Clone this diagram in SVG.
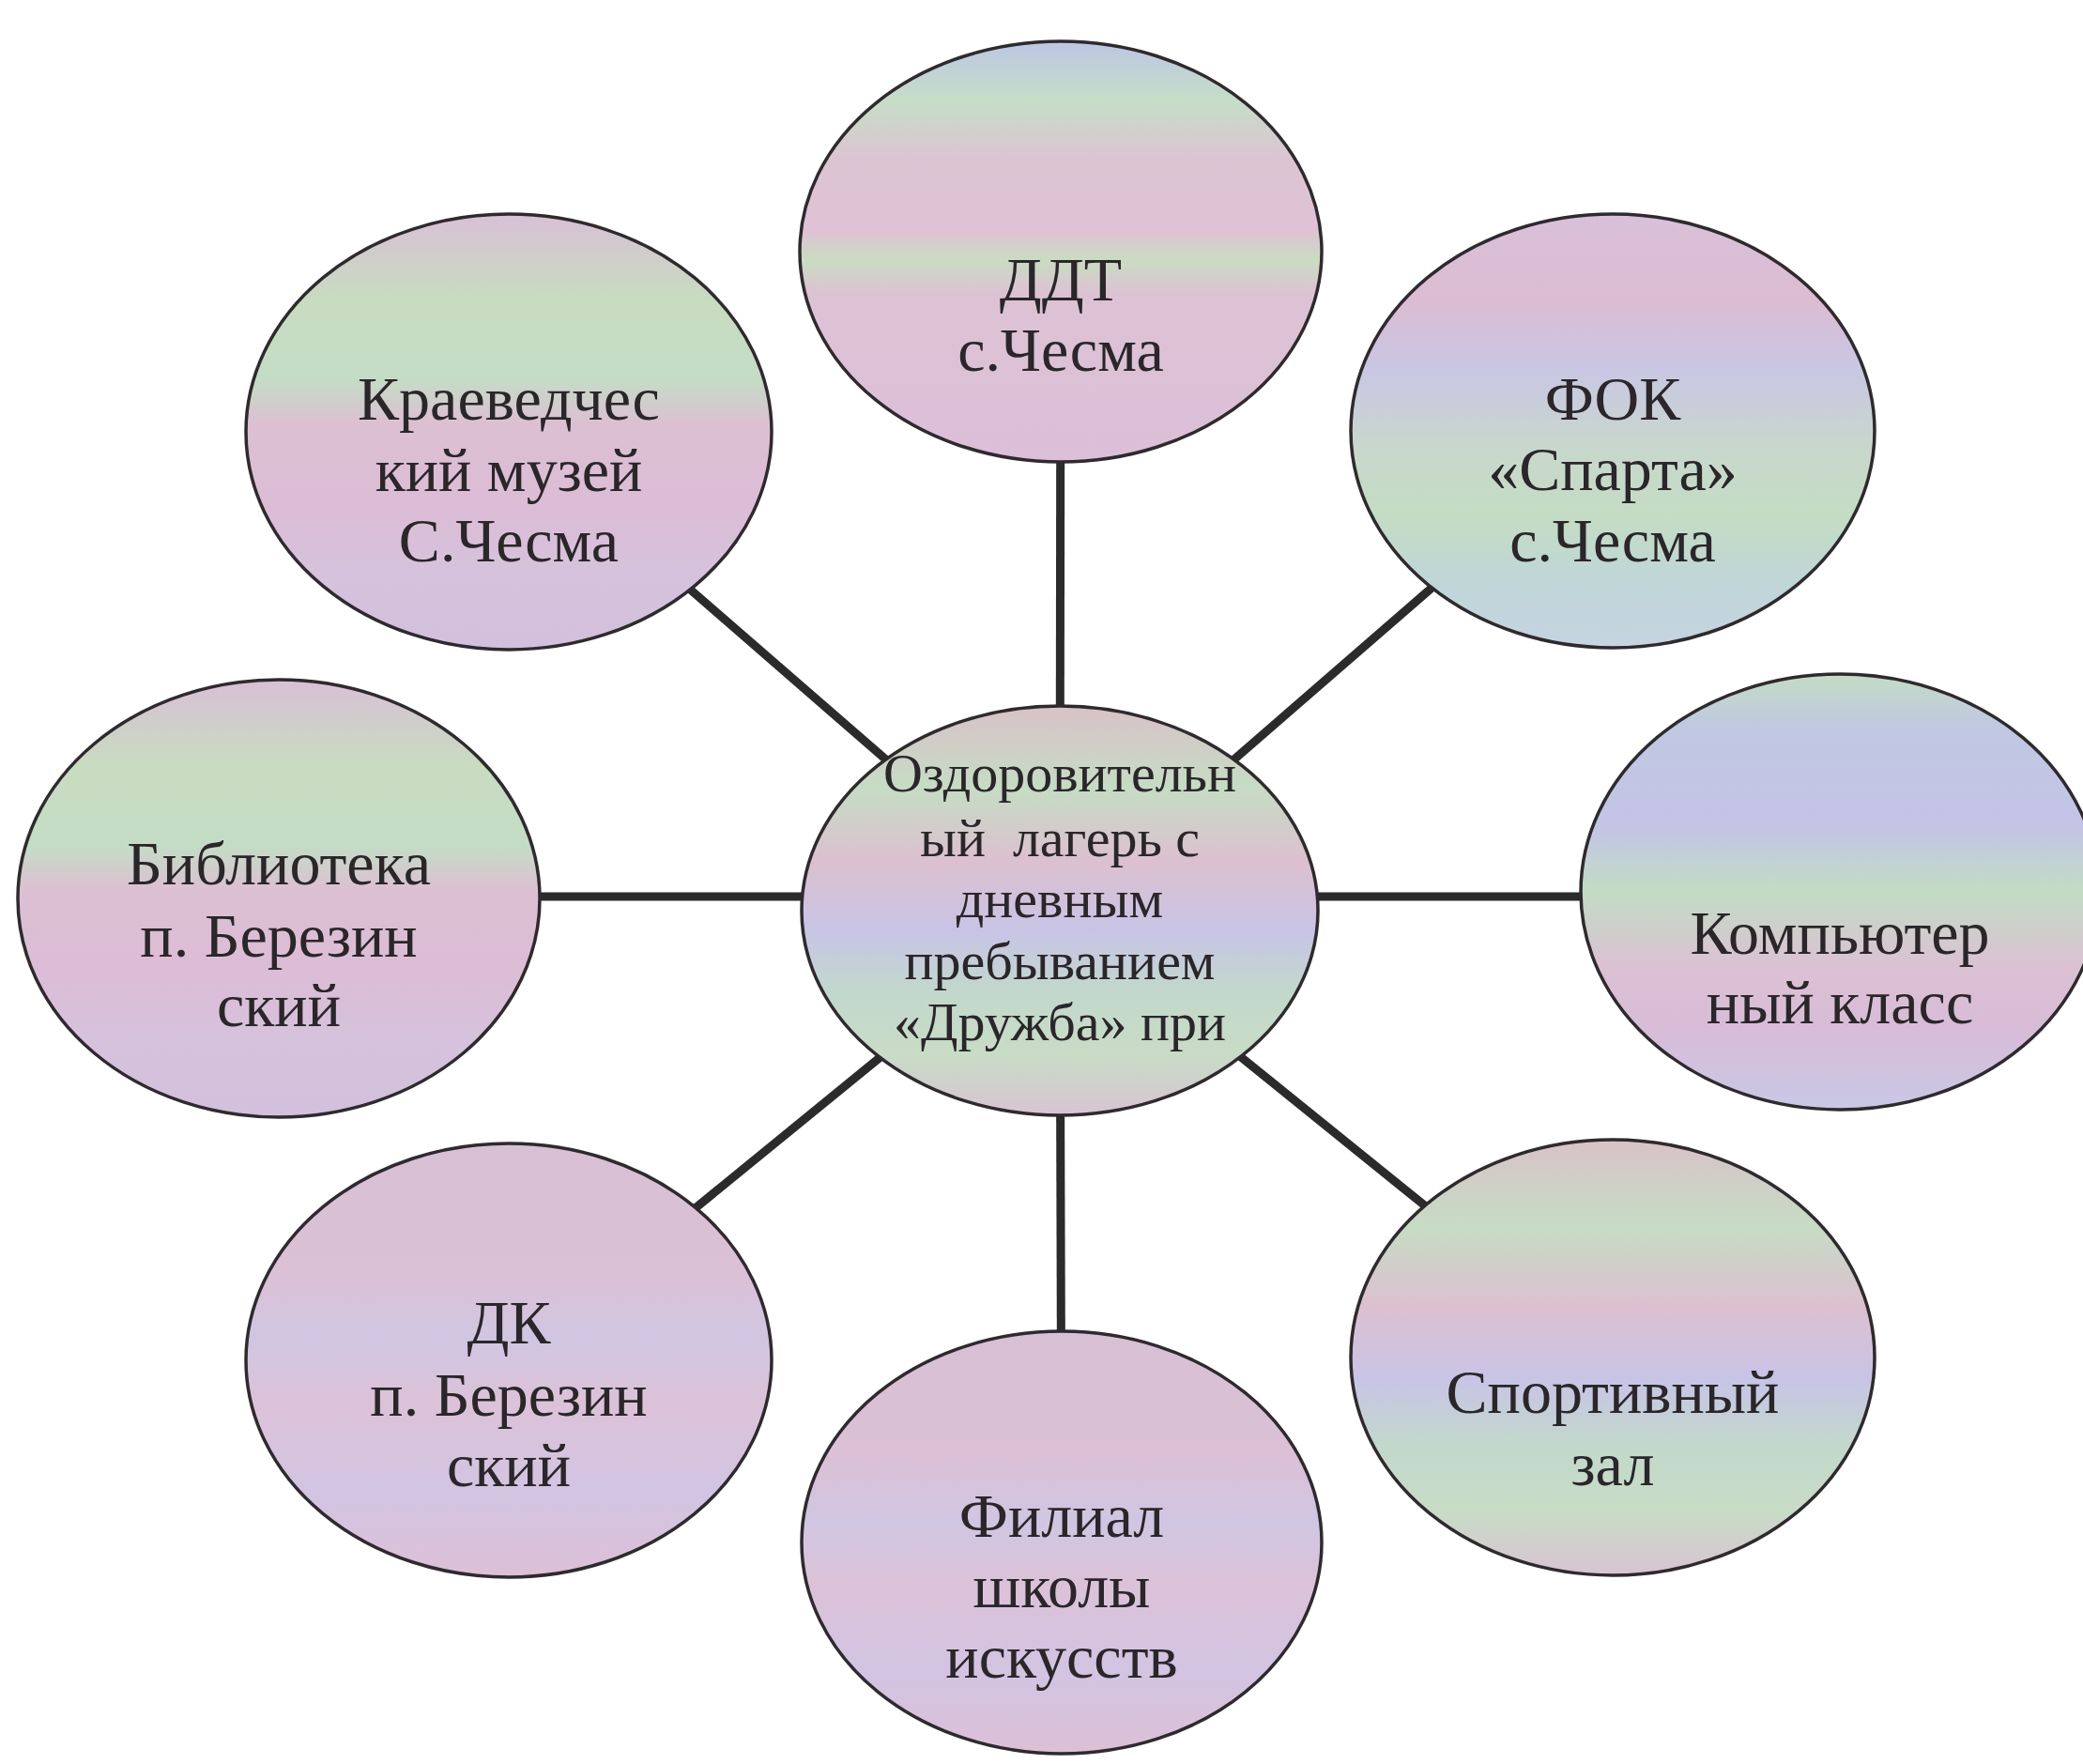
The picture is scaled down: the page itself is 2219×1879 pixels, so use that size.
<svg xmlns="http://www.w3.org/2000/svg" width="2219" height="1879" viewBox="0 0 2219 1879">
<style>
.node ellipse{stroke:#2e2a2e;stroke-width:3.5}
.lbl{font-family:"Liberation Serif","Times New Roman",serif;font-size:66px;fill:#2a262a;text-anchor:middle}
.ctr{font-size:58px}
.conn line{stroke:#2b2b2b;stroke-width:9;stroke-linecap:butt}
</style>
<defs>
<linearGradient id="gA" x1="0" y1="0" x2="0" y2="1">
<stop offset="0" stop-color="#bcc6e4"/>
<stop offset="0.14" stop-color="#c6dec8"/>
<stop offset="0.28" stop-color="#dcc4d2"/>
<stop offset="0.45" stop-color="#dfc2d6"/>
<stop offset="0.52" stop-color="#c9dcc2"/>
<stop offset="0.6" stop-color="#ddc2d4"/>
<stop offset="1" stop-color="#dcbfd8"/>
</linearGradient>
<linearGradient id="gB" x1="0" y1="0" x2="0" y2="1">
<stop offset="0" stop-color="#d9c0d8"/>
<stop offset="0.2" stop-color="#dcbcd2"/>
<stop offset="0.35" stop-color="#c9c6e4"/>
<stop offset="0.55" stop-color="#c8d8cc"/>
<stop offset="0.7" stop-color="#c4dcc4"/>
<stop offset="0.85" stop-color="#bfd6d8"/>
<stop offset="1" stop-color="#c6d4e0"/>
</linearGradient>
<linearGradient id="gC" x1="0" y1="0" x2="0" y2="1">
<stop offset="0" stop-color="#c4dcc4"/>
<stop offset="0.12" stop-color="#c0c8e2"/>
<stop offset="0.35" stop-color="#c4c4e6"/>
<stop offset="0.5" stop-color="#c2dcc4"/>
<stop offset="0.68" stop-color="#dcc0d4"/>
<stop offset="0.82" stop-color="#d8bcd8"/>
<stop offset="1" stop-color="#c8c8e6"/>
</linearGradient>
<linearGradient id="gD" x1="0" y1="0" x2="0" y2="1">
<stop offset="0" stop-color="#d8c0d6"/>
<stop offset="0.2" stop-color="#c8dcc0"/>
<stop offset="0.38" stop-color="#c4dcc6"/>
<stop offset="0.48" stop-color="#dcc0d2"/>
<stop offset="0.68" stop-color="#dcbcd6"/>
<stop offset="0.82" stop-color="#d6c2dc"/>
<stop offset="1" stop-color="#d2c0dc"/>
</linearGradient>
<linearGradient id="gE" x1="0" y1="0" x2="0" y2="1">
<stop offset="0" stop-color="#d8c2c8"/>
<stop offset="0.2" stop-color="#c6dcc4"/>
<stop offset="0.38" stop-color="#dcc0d0"/>
<stop offset="0.55" stop-color="#c8c4e6"/>
<stop offset="0.7" stop-color="#c2d8cc"/>
<stop offset="0.85" stop-color="#c8dcc6"/>
<stop offset="1" stop-color="#d8c4d2"/>
</linearGradient>
<linearGradient id="gF" x1="0" y1="0" x2="0" y2="1">
<stop offset="0" stop-color="#d8c0d4"/>
<stop offset="0.3" stop-color="#dbc0d6"/>
<stop offset="0.45" stop-color="#d0c6e2"/>
<stop offset="0.6" stop-color="#dcc2d8"/>
<stop offset="0.8" stop-color="#d2c4e2"/>
<stop offset="1" stop-color="#dcc0d6"/>
</linearGradient>
</defs>
<rect width="2219" height="1879" fill="#ffffff"/>
<g id="connectors" class="conn">
<line x1="1129" y1="970" x2="1130" y2="268"/>
<line x1="1129" y1="970" x2="1718" y2="459"/>
<line x1="297" y1="955" x2="1960" y2="955"/>
<line x1="1129" y1="970" x2="1718" y2="1446"/>
<line x1="1129" y1="970" x2="1131" y2="1643"/>
<line x1="1129" y1="970" x2="542" y2="1449"/>
<line x1="1129" y1="970" x2="542" y2="460"/>
</g>
<g id="n-ddt" class="node">
<ellipse cx="1130" cy="268" rx="278" ry="224" fill="url(#gA)"/>
<text class="lbl" x="1130" y="320">ДДТ</text>
<text class="lbl" x="1130" y="395">с.Чесма</text>
</g>
<g id="n-fok" class="node">
<ellipse cx="1718" cy="459" rx="279" ry="231" fill="url(#gB)"/>
<text class="lbl" x="1718" y="447">ФОК</text>
<text class="lbl" x="1718" y="522">«Спарта»</text>
<text class="lbl" x="1718" y="598">с.Чесма</text>
</g>
<g id="n-comp" class="node">
<ellipse cx="1960" cy="950" rx="276" ry="232" fill="url(#gC)"/>
<text class="lbl" x="1960" y="1016">Компьютер</text>
<text class="lbl" x="1960" y="1090">ный класс</text>
</g>
<g id="n-sport" class="node">
<ellipse cx="1718" cy="1446" rx="279" ry="232" fill="url(#gE)"/>
<text class="lbl" x="1718" y="1505">Спортивный</text>
<text class="lbl" x="1718" y="1582">зал</text>
</g>
<g id="n-filial" class="node">
<ellipse cx="1131" cy="1643" rx="277" ry="225" fill="url(#gF)"/>
<text class="lbl" x="1131" y="1637">Филиал</text>
<text class="lbl" x="1131" y="1712">школы</text>
<text class="lbl" x="1131" y="1787">искусств</text>
</g>
<g id="n-dk" class="node">
<ellipse cx="542" cy="1449" rx="280" ry="231" fill="url(#gF)"/>
<text class="lbl" x="542" y="1431">ДК</text>
<text class="lbl" x="542" y="1508">п. Березин</text>
<text class="lbl" x="542" y="1583">ский</text>
</g>
<g id="n-lib" class="node">
<ellipse cx="297" cy="957" rx="278" ry="233" fill="url(#gD)"/>
<text class="lbl" x="297" y="942">Библиотека</text>
<text class="lbl" x="297" y="1019">п. Березин</text>
<text class="lbl" x="297" y="1093">ский</text>
</g>
<g id="n-museum" class="node">
<ellipse cx="542" cy="460" rx="280" ry="232" fill="url(#gD)"/>
<text class="lbl" x="542" y="447">Краеведчес</text>
<text class="lbl" x="542" y="523">кий музей</text>
<text class="lbl" x="542" y="598">С.Чесма</text>
</g>
<g id="n-center" class="node">
<ellipse cx="1129" cy="970" rx="275" ry="218" fill="url(#gE)"/>
<text class="lbl ctr" x="1129" y="843">Оздоровительн</text>
<text class="lbl ctr" x="1129" y="912" xml:space="preserve">ый  лагерь с</text>
<text class="lbl ctr" x="1129" y="977">дневным</text>
<text class="lbl ctr" x="1129" y="1043">пребыванием</text>
<text class="lbl ctr" x="1129" y="1108">«Дружба» при</text>
</g>
</svg>
